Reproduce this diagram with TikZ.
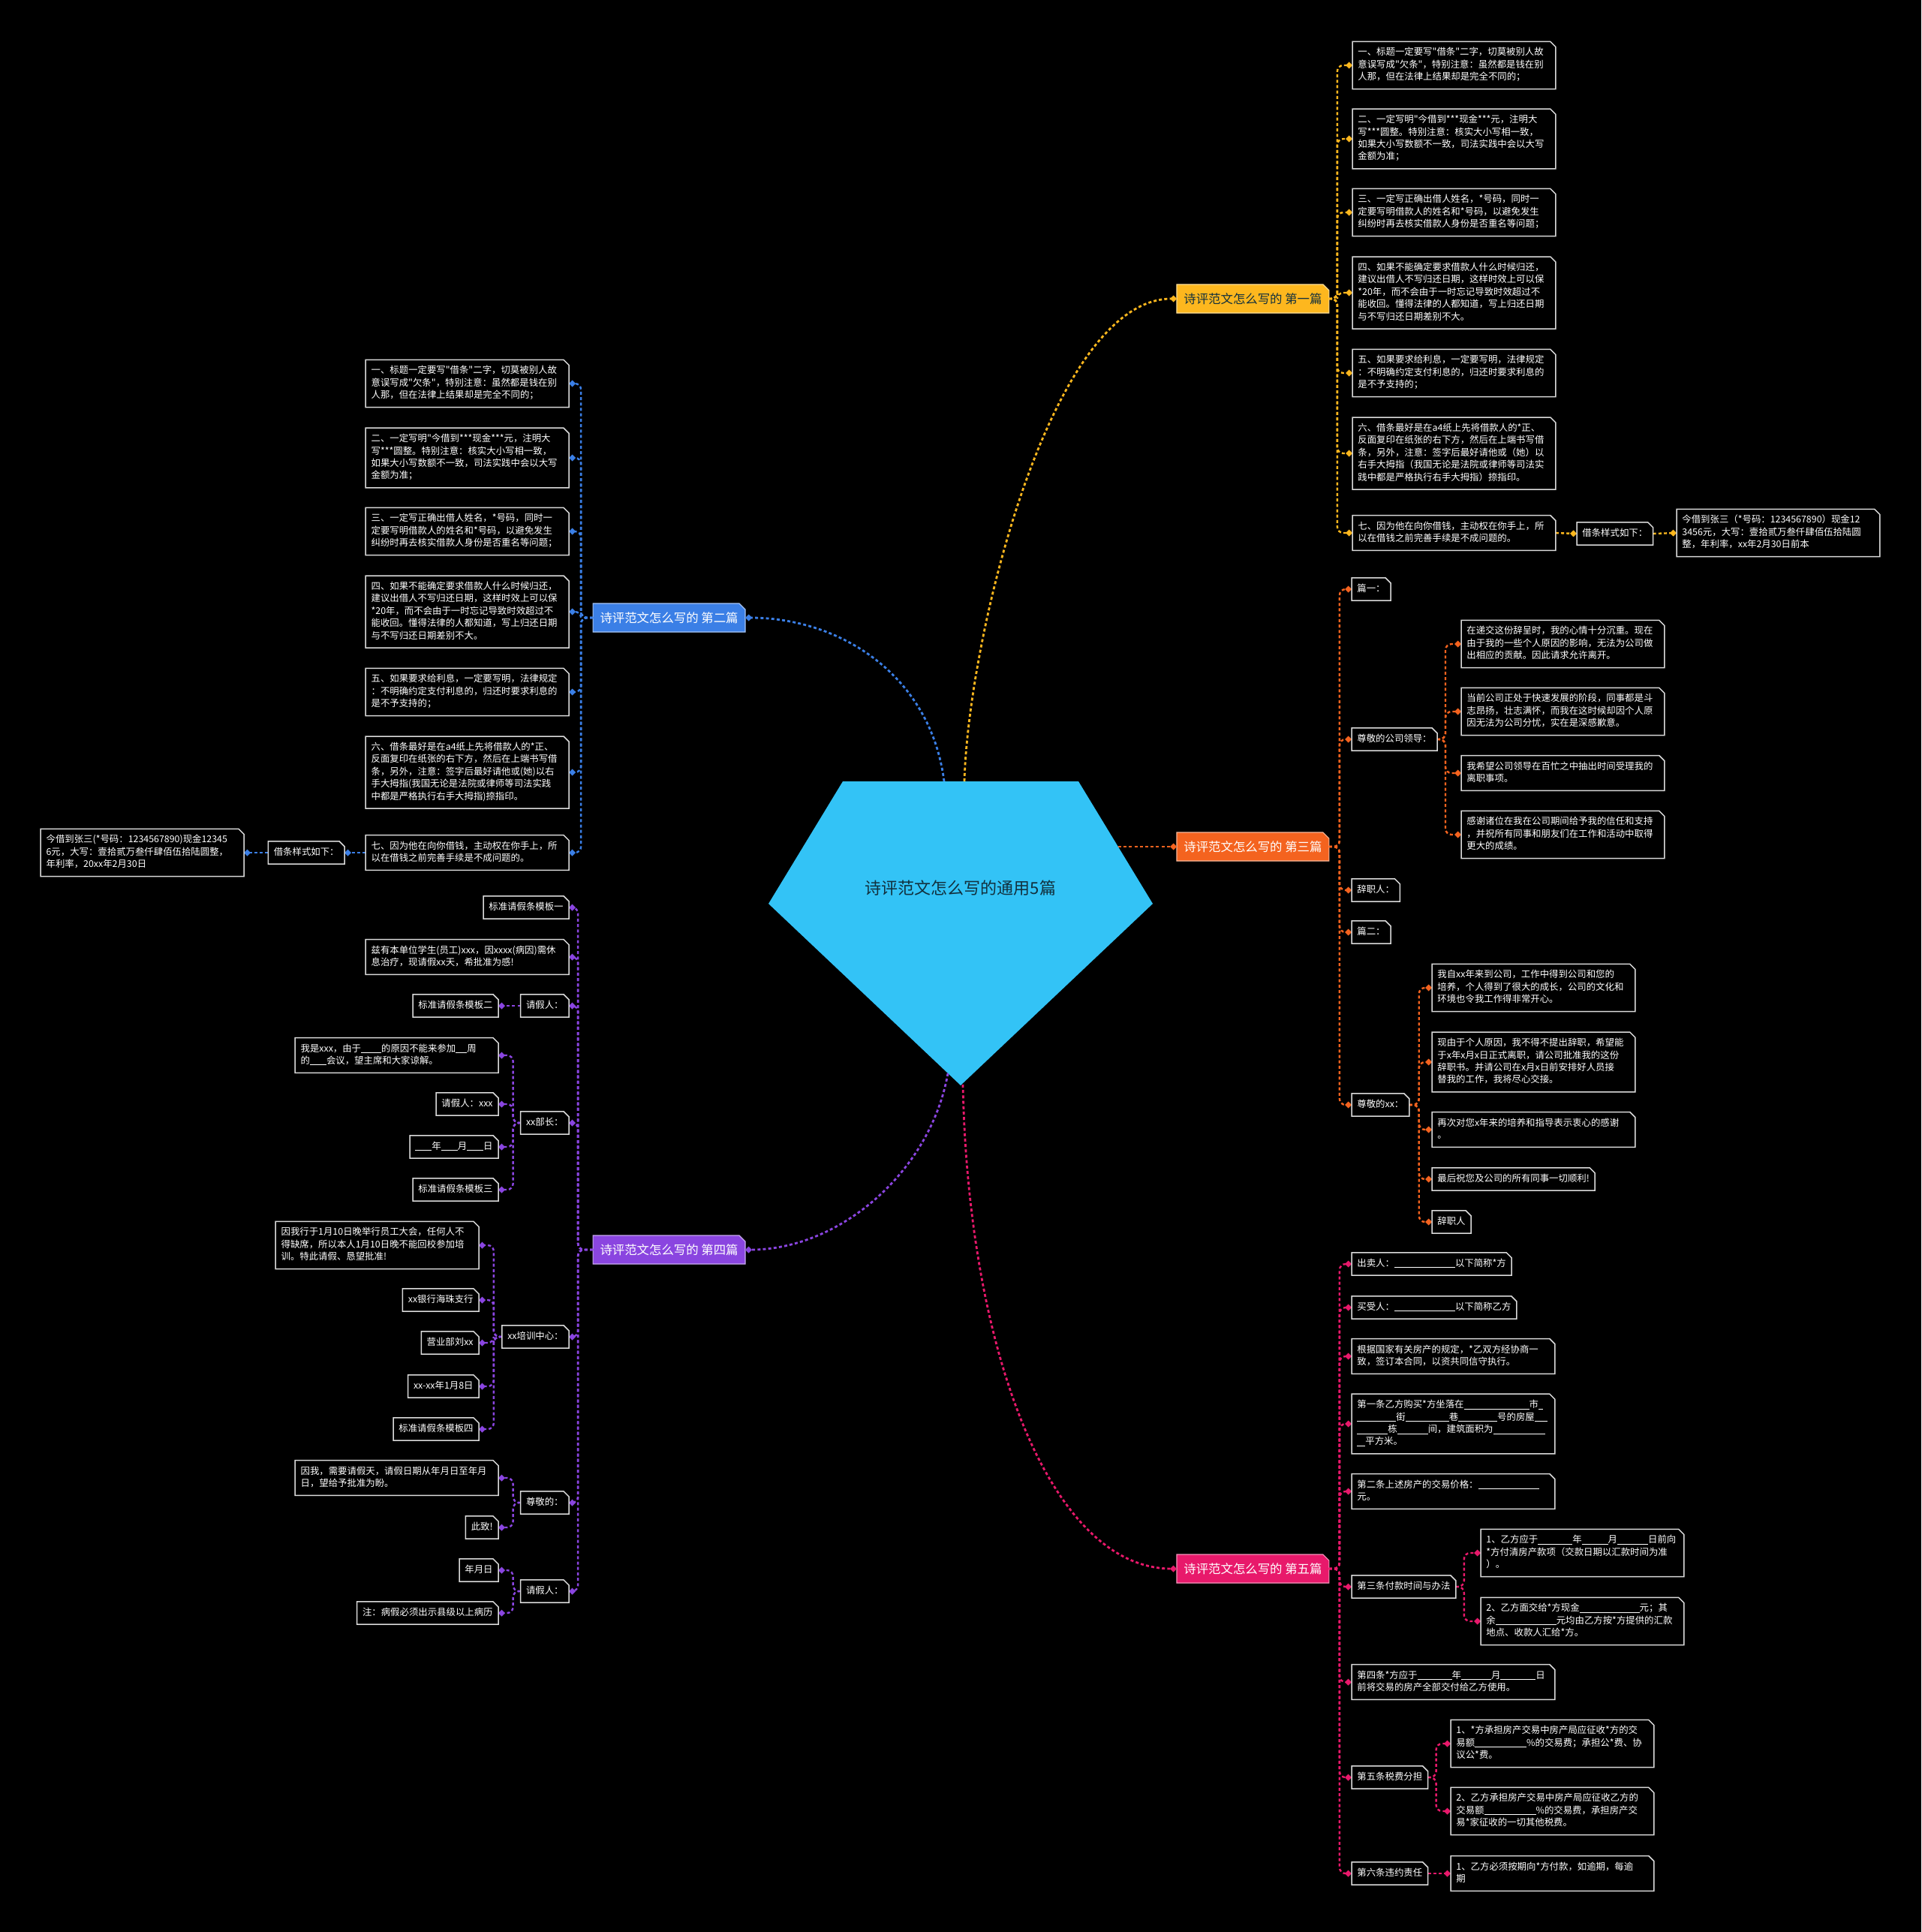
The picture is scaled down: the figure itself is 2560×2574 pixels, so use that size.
\documentclass[tikz,border=0pt]{standalone}
\usepackage{fontspec}
\setmainfont{Noto Sans CJK SC}[Ligatures=TeXOff]
\usetikzlibrary{arrows.meta,backgrounds}
\definecolor{amarelo}{HTML}{FDB71E}
\definecolor{azul}{HTML}{3B7FE6}
\definecolor{laranja}{HTML}{F4631F}
\definecolor{roxo}{HTML}{8A45E0}
\definecolor{rosa}{HTML}{E8196B}
\definecolor{ciano}{HTML}{33C3F6}
\definecolor{tinta}{HTML}{12303D}
\definecolor{cinza}{HTML}{DADADA}
\newcommand{\blank}[1]{\rule[-1pt]{#1pt}{0.5pt}}

\begin{document}
\begin{tikzpicture}[x=0.5pt,y=-0.5pt,
  tag/.style={font=\fontsize{6.2}{8.2}\selectfont,text=white,align=left,inner xsep=3.5pt,inner ysep=3.3pt,
    execute at begin node=\strut,execute at end node=\strut},
  note/.style={tag,text width=128pt},
  topic/.style={font=\fontsize{8.2}{10}\selectfont,text=white,inner xsep=4.5pt,inner ysep=5.5pt},
  frame/.style={draw=cinza,line width=0.75pt},
  link/.style={line width=1.2pt,dash pattern=on 2pt off 1.6pt,rounded corners=4pt,
    -{Diamond[length=4.5pt,width=4.5pt]}},
  hub/.style={link,line width=1.4pt}
]
  \useasboundingbox (0,0) rectangle (2560,2574);

  % centre
  \fill[ciano] (1123,1041) -- (1437,1041) -- (1536,1204) -- (1280,1446) -- (1024,1204) -- cycle;
  \node[font=\fontsize{11}{13}\selectfont,text=tinta] (root) at (1280,1183) {诗评范文怎么写的通用5篇};
  \coordinate (up1) at (1285,1041);
  \coordinate (up2) at (1258,1041);
  \coordinate (side) at (1490,1128);
  \coordinate (low1) at (1263,1430);
  \coordinate (low2) at (1283,1445);

  % topics
  \node[topic,text=tinta,anchor=west] (t1) at (1568,398) {诗评范文怎么写的 第一篇};
  \node[topic,anchor=east] (t2) at (993,823) {诗评范文怎么写的 第二篇};
  \node[topic,anchor=west] (t3) at (1568,1128) {诗评范文怎么写的 第三篇};
  \node[topic,anchor=east] (t4) at (993,1665) {诗评范文怎么写的 第四篇};
  \node[topic,anchor=west] (t5) at (1568,2090) {诗评范文怎么写的 第五篇};

  \draw[hub,amarelo] (up1) .. controls (1290,850) and (1400,398) .. (t1.west);
  \draw[hub,azul] (up2) .. controls (1240,900) and (1120,823) .. (t2.east);
  \draw[hub,laranja] (side) -- (t3.west);
  \draw[hub,roxo] (low1) .. controls (1240,1560) and (1120,1665) .. (t4.east);
  \draw[hub,rosa] (low2) .. controls (1290,1800) and (1400,2090) .. (t5.west);

  % first
  \node[note,anchor=west] (y1) at (1802,87) {一、标题一定要写"借条"二字，切莫被别人故\\意误写成"欠条"，特别注意：虽然都是钱在别\\人那，但在法律上结果却是完全不同的；};
  \node[note,anchor=west] (y2) at (1802,185) {二、一定写明"今借到***现金***元，注明大\\写***圆整。特别注意：核实大小写相一致，\\如果大小写数额不一致，司法实践中会以大写\\金额为准；};
  \node[note,anchor=west] (y3) at (1802,283) {三、一定写正确出借人姓名，*号码，同时一\\定要写明借款人的姓名和*号码，以避免发生\\纠纷时再去核实借款人身份是否重名等问题；};
  \node[note,anchor=west] (y4) at (1802,390) {四、如果不能确定要求借款人什么时候归还，\\建议出借人不写归还日期，这样时效上可以保\\{}*20年，而不会由于一时忘记导致时效超过不\\能收回。懂得法律的人都知道，写上归还日期\\与不写归还日期差别不大。};
  \node[note,anchor=west] (y5) at (1802,497) {五、如果要求给利息，一定要写明，法律规定\\：不明确约定支付利息的，归还时要求利息的\\是不予支持的；};
  \node[note,anchor=west] (y6) at (1802,604) {六、借条最好是在a4纸上先将借款人的*正、\\反面复印在纸张的右下方，然后在上端书写借\\条，另外，注意：签字后最好请他或（她）以\\右手大拇指（我国无论是法院或律师等司法实\\践中都是严格执行右手大拇指）捺指印。};
  \node[note,anchor=west] (y7) at (1802,710) {七、因为他在向你借钱，主动权在你手上，所\\以在借钱之前完善手续是不成问题的。};
  \node[tag,anchor=west] (jt1) at (2101,711) {借条样式如下：};
  \node[note,anchor=west] (jz1) at (2234,710) {今借到张三（*号码：1234567890）现金12\\3456元，大写：壹拾贰万叁仟肆佰伍拾陆圆\\整，年利率，xx年2月30日前本};
  \foreach \n in {y1,y2,y3,y4,y5,y6,y7}
    \draw[link,amarelo] (t1.east) -- ++(11,0) |- (\n.west);
  \draw[link,amarelo] (y7.east) -- (jt1.west);
  \draw[link,amarelo] (jt1.east) -- (jz1.west);

  % second
  \node[note,anchor=east] (b1) at (758,511) {一、标题一定要写"借条"二字，切莫被别人故\\意误写成"欠条"，特别注意：虽然都是钱在别\\人那，但在法律上结果却是完全不同的；};
  \node[note,anchor=east] (b2) at (758,610) {二、一定写明"今借到***现金***元，注明大\\写***圆整。特别注意：核实大小写相一致，\\如果大小写数额不一致，司法实践中会以大写\\金额为准；};
  \node[note,anchor=east] (b3) at (758,708) {三、一定写正确出借人姓名，*号码，同时一\\定要写明借款人的姓名和*号码，以避免发生\\纠纷时再去核实借款人身份是否重名等问题；};
  \node[note,anchor=east] (b4) at (758,815) {四、如果不能确定要求借款人什么时候归还，\\建议出借人不写归还日期，这样时效上可以保\\{}*20年，而不会由于一时忘记导致时效超过不\\能收回。懂得法律的人都知道，写上归还日期\\与不写归还日期差别不大。};
  \node[note,anchor=east] (b5) at (758,922) {五、如果要求给利息，一定要写明，法律规定\\：不明确约定支付利息的，归还时要求利息的\\是不予支持的；};
  \node[note,anchor=east] (b6) at (758,1029) {六、借条最好是在a4纸上先将借款人的*正、\\反面复印在纸张的右下方，然后在上端书写借\\条，另外，注意：签字后最好请他或(她)以右\\手大拇指(我国无论是法院或律师等司法实践\\中都是严格执行右手大拇指)捺指印。};
  \node[note,anchor=east] (b7) at (758,1136) {七、因为他在向你借钱，主动权在你手上，所\\以在借钱之前完善手续是不成问题的。};
  \node[tag,anchor=east] (jt2) at (459,1136) {借条样式如下：};
  \node[note,anchor=east] (jz2) at (325,1136) {今借到张三(*号码：1234567890)现金12345\\6元，大写：壹拾贰万叁仟肆佰伍拾陆圆整，\\年利率，20xx年2月30日};
  \foreach \n in {b1,b2,b3,b4,b5,b6,b7}
    \draw[link,azul] (t2.west) -- ++(-16,0) |- (\n.east);
  \draw[link,azul] (b7.west) -- (jt2.east);
  \draw[link,azul] (jt2.west) -- (jz2.east);

  % third
  \node[tag,anchor=west] (o1) at (1801,785) {篇一：};
  \node[tag,anchor=west] (o2) at (1801,985) {尊敬的公司领导：};
  \node[note,anchor=west] (o2a) at (1947,858) {在递交这份辞呈时，我的心情十分沉重。现在\\由于我的一些个人原因的影响，无法为公司做\\出相应的贡献。因此请求允许离开。};
  \node[note,anchor=west] (o2b) at (1947,948) {当前公司正处于快速发展的阶段，同事都是斗\\志昂扬，壮志满怀，而我在这时候却因个人原\\因无法为公司分忧，实在是深感歉意。};
  \node[note,anchor=west] (o2c) at (1947,1030) {我希望公司领导在百忙之中抽出时间受理我的\\离职事项。};
  \node[note,anchor=west] (o2d) at (1947,1112) {感谢诸位在我在公司期间给予我的信任和支持\\，并祝所有同事和朋友们在工作和活动中取得\\更大的成绩。};
  \node[tag,anchor=west] (o3) at (1801,1186) {辞职人：};
  \node[tag,anchor=west] (o4) at (1801,1242) {篇二：};
  \node[tag,anchor=west] (o5) at (1801,1472) {尊敬的xx：};
  \node[note,anchor=west] (o5a) at (1908,1316) {我自xx年来到公司，工作中得到公司和您的\\培养，个人得到了很大的成长，公司的文化和\\环境也令我工作得非常开心。};
  \node[note,anchor=west] (o5b) at (1908,1415) {现由于个人原因，我不得不提出辞职，希望能\\于x年x月x日正式离职，请公司批准我的这份\\辞职书。并请公司在x月x日前安排好人员接\\替我的工作，我将尽心交接。};
  \node[note,anchor=west] (o5c) at (1908,1505) {再次对您x年来的培养和指导表示衷心的感谢\\。};
  \node[tag,anchor=west] (o5d) at (1908,1571) {最后祝您及公司的所有同事一切顺利!};
  \node[tag,anchor=west] (o5e) at (1908,1628) {辞职人};
  \foreach \n in {o1,o2,o3,o4,o5}
    \draw[link,laranja] (t3.east) -- ++(14,0) |- (\n.west);
  \foreach \n in {o2a,o2b,o2c,o2d}
    \draw[link,laranja] (o2.east) -- ++(11,0) |- (\n.west);
  \foreach \n in {o5a,o5b,o5c,o5d,o5e}
    \draw[link,laranja] (o5.east) -- ++(13,0) |- (\n.west);

  % fourth
  \node[tag,anchor=east] (p1) at (758,1209) {标准请假条模板一};
  \node[note,anchor=east] (p2) at (758,1275) {兹有本单位学生(员工)xxx，因xxxx(病因)需休\\息治疗，现请假xx天，希批准为感!};
  \node[tag,anchor=east] (p3) at (758,1340) {请假人：};
  \node[tag,anchor=east] (p3a) at (664,1340) {标准请假条模板二};
  \node[tag,anchor=east] (p4) at (758,1496) {xx部长：};
  \node[note,anchor=east] (p4a) at (664,1406) {我是xxx，由于\blank{13.5}的原因不能来参加\blank{7.5}周\\的\blank{11}会议，望主席和大家谅解。};
  \node[tag,anchor=east] (p4b) at (664,1471) {请假人：xxx};
  \node[tag,anchor=east] (p4c) at (664,1528) {\blank{11}年\blank{11}月\blank{11}日};
  \node[tag,anchor=east] (p4d) at (664,1585) {标准请假条模板三};
  \node[tag,anchor=east] (p5) at (758,1781) {xx培训中心：};
  \node[note,anchor=east] (p5a) at (638,1659) {因我行于1月10日晚举行员工大会，任何人不\\得缺席，所以本人1月10日晚不能回校参加培\\训。特此请假、恳望批准!};
  \node[tag,anchor=east] (p5b) at (638,1732) {xx银行海珠支行};
  \node[tag,anchor=east] (p5c) at (638,1789) {营业部刘xx};
  \node[tag,anchor=east] (p5d) at (638,1847) {xx-xx年1月8日};
  \node[tag,anchor=east] (p5e) at (638,1904) {标准请假条模板四};
  \node[tag,anchor=east] (p6) at (758,2002) {尊敬的：};
  \node[note,anchor=east] (p6a) at (664,1969) {因我，需要请假天，请假日期从年月日至年月\\日，望给予批准为盼。};
  \node[tag,anchor=east] (p6b) at (664,2035) {此致!};
  \node[tag,anchor=east] (p7) at (758,2120) {请假人：};
  \node[tag,anchor=east] (p7a) at (664,2092) {年月日};
  \node[tag,anchor=east] (p7b) at (664,2149) {注：病假必须出示县级以上病历};
  \foreach \n in {p1,p2,p3,p4,p5,p6,p7}
    \draw[link,roxo] (t4.west) -- ++(-20,0) |- (\n.east);
  \draw[link,roxo] (p3.west) -- (p3a.east);
  \foreach \n in {p4a,p4b,p4c,p4d}
    \draw[link,roxo] (p4.west) -- ++(-10,0) |- (\n.east);
  \foreach \n in {p5a,p5b,p5c,p5d,p5e}
    \draw[link,roxo] (p5.west) -- ++(-11,0) |- (\n.east);
  \foreach \n in {p6a,p6b}
    \draw[link,roxo] (p6.west) -- ++(-10,0) |- (\n.east);
  \foreach \n in {p7a,p7b}
    \draw[link,roxo] (p7.west) -- ++(-10,0) |- (\n.east);

  % fifth
  \node[tag,anchor=west] (r1) at (1801,1684) {出卖人：\blank{40.5}以下简称*方};
  \node[tag,anchor=west] (r2) at (1801,1742) {买受人：\blank{40.5}以下简称乙方};
  \node[note,anchor=west] (r3) at (1801,1807) {根据国家有关房产的规定，*乙双方经协商一\\致，签订本合同，以资共同信守执行。};
  \node[note,anchor=west] (r4) at (1801,1897) {第一条乙方购买*方坐落在\blank{43.5}市\blank{3}\\\blank{26}街\blank{29}巷\blank{26}号的房屋\blank{8.5}\\\blank{20.5}栋\blank{20.5}间，建筑面积为\blank{34.5}\\\blank{5.5}平方米。};
  \node[note,anchor=west] (r5) at (1801,1987) {第二条上述房产的交易价格：\blank{40.5}\\元。};
  \node[tag,anchor=west] (r6) at (1801,2114) {第三条付款时间与办法};
  \node[note,anchor=west] (r6a) at (1973,2069) {1、乙方应于\blank{23}年\blank{17.5}月\blank{20.5}日前向\\{}*方付清房产款项（交款日期以汇款时间为准\\）。};
  \node[note,anchor=west] (r6b) at (1973,2160) {2、乙方面交给*方现金\blank{40}元；其\\余\blank{40.5}元均由乙方按*方提供的汇款\\地点、收款人汇给*方。};
  \node[note,anchor=west] (r7) at (1801,2241) {第四条*方应于\blank{23}年\blank{20}月\blank{23.5}日\\前将交易的房产全部交付给乙方使用。};
  \node[tag,anchor=west] (r8) at (1801,2368) {第五条税费分担};
  \node[note,anchor=west] (r8a) at (1933,2323) {1、*方承担房产交易中房产局应征收*方的交\\易额\blank{34.5}\%的交易费；承担公*费、协\\议公*费。};
  \node[note,anchor=west] (r8b) at (1933,2413) {2、乙方承担房产交易中房产局应征收乙方的\\交易额\blank{34.5}\%的交易费，承担房产交\\易*家征收的一切其他税费。};
  \node[tag,anchor=west] (r9) at (1801,2496) {第六条违约责任};
  \node[note,anchor=west] (r9a) at (1933,2496) {1、乙方必须按期向*方付款，如逾期，每逾\\期};
  \foreach \n in {r1,r2,r3,r4,r5,r6,r7,r8,r9}
    \draw[link,rosa] (t5.east) -- ++(14,0) |- (\n.west);
  \foreach \n in {r6a,r6b}
    \draw[link,rosa] (r6.east) -- ++(11,0) |- (\n.west);
  \foreach \n in {r8a,r8b}
    \draw[link,rosa] (r8.east) -- ++(11,0) |- (\n.west);
  \draw[link,rosa] (r9.east) -- (r9a.west);

  % box outlines with the cut corner
  \foreach \n in {y1,y2,y3,y4,y5,y6,y7,jt1,jz1,b1,b2,b3,b4,b5,b6,b7,jt2,jz2,
      o1,o2,o2a,o2b,o2c,o2d,o3,o4,o5,o5a,o5b,o5c,o5d,o5e,
      p1,p2,p3,p3a,p4,p4a,p4b,p4c,p4d,p5,p5a,p5b,p5c,p5d,p5e,p6,p6a,p6b,p7,p7a,p7b,
      r1,r2,r3,r4,r5,r6,r6a,r6b,r7,r8,r8a,r8b,r9,r9a}
    \draw[frame] (\n.south west) -- (\n.north west) -- ([xshift=-3.5pt]\n.north east)
      -- ([yshift=-3.5pt]\n.north east) -- (\n.south east) -- cycle;

  \begin{scope}[on background layer]
    \fill[black] (0,0) rectangle (2560,2574);
    \foreach \n/\c in {t1/amarelo,t2/azul,t3/laranja,t4/roxo,t5/rosa}
      \filldraw[fill=\c,draw=\c!45!white,line width=0.6pt] (\n.south west) -- (\n.north west)
        -- ([xshift=-4pt]\n.north east) -- ([yshift=-4pt]\n.north east) -- (\n.south east) -- cycle;
  \end{scope}
\end{tikzpicture}
\end{document}
